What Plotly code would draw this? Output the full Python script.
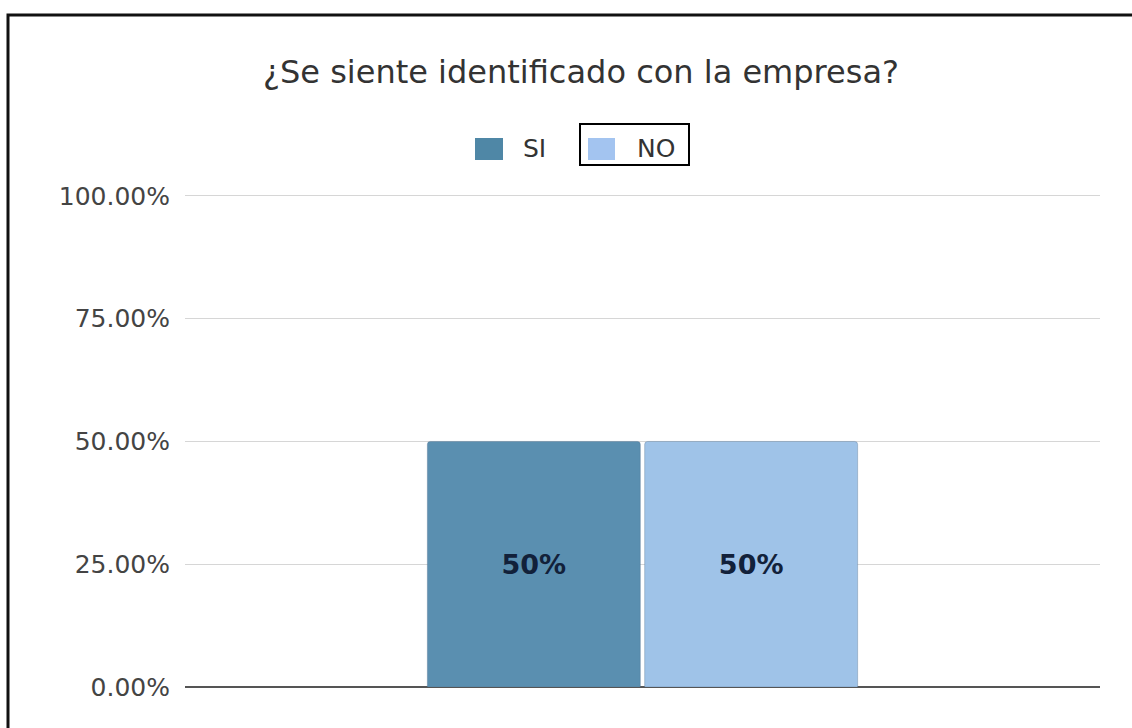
import plotly.graph_objects as go

# Survey result: share of answers per option
title_text = "¿Se siente identificado con la empresa?"
category = ["Respuesta"]
series_names = ["SI", "NO"]
series_values = [0.50, 0.50]
series_colors = ["#5a8fb0", "#9fc3e8"]
legend_colors = ["#4f87a6", "#a3c4f0"]
y_ticks = [0, 0.25, 0.50, 0.75, 1.0]

W, H = 1132, 728
Y_TOP = 1.01
ML, MR, MT, MB = 185, 32, 191, 41
PW, PH = W - ML - MR, H - MT - MB

FONT = "DejaVu Sans"


def px_to_paper_x(px):
    return (px - ML) / PW


def px_to_paper_y(py):
    return 1 + (MT - py) / PH


fig = go.Figure()
for name, val, col in zip(series_names, series_values, series_colors):
    fig.add_trace(go.Bar(
        x=category,
        y=[val],
        name=name,
        marker=dict(color=col, line=dict(color="rgba(80,110,140,0.35)", width=1)),
        texttemplate="%{y:.0%}",
        textposition="inside",
        insidetextanchor="middle",
        textfont=dict(family=FONT, size=27, color="#12213a", weight="bold"),
        showlegend=False,
    ))

shapes = []
annotations = []

# Outer frame around the whole chart
shapes.append(dict(
    type="rect", xref="paper", yref="paper",
    x0=px_to_paper_x(8), x1=px_to_paper_x(1140),
    y0=px_to_paper_y(740), y1=px_to_paper_y(15),
    line=dict(color="#111111", width=3), fillcolor="rgba(0,0,0,0)", layer="above",
))

# Hand-drawn legend: swatch + label per series
legend_items = [
    dict(sw_x0=475, sw_x1=503, txt_x=521),
    dict(sw_x0=588, sw_x1=615, txt_x=635),
]
for name, col, pos in zip(series_names, legend_colors, legend_items):
    shapes.append(dict(
        type="rect", xref="paper", yref="paper",
        x0=px_to_paper_x(pos["sw_x0"]), x1=px_to_paper_x(pos["sw_x1"]),
        y0=px_to_paper_y(160), y1=px_to_paper_y(138),
        line=dict(width=0), fillcolor=col,
    ))
    annotations.append(dict(
        text=name, xref="paper", yref="paper",
        x=px_to_paper_x(pos["txt_x"]), y=px_to_paper_y(148),
        xanchor="left", yanchor="middle", showarrow=False,
        font=dict(family=FONT, size=25, color="#333333"),
    ))

# Highlight box around the "NO" legend entry
shapes.append(dict(
    type="rect", xref="paper", yref="paper",
    x0=px_to_paper_x(580), x1=px_to_paper_x(689),
    y0=px_to_paper_y(165), y1=px_to_paper_y(124),
    line=dict(color="#000000", width=2), fillcolor="rgba(0,0,0,0)",
))

fig.update_layout(
    width=W, height=H, autosize=False,
    margin=dict(l=ML, r=MR, t=MT, b=MB),
    paper_bgcolor="white", plot_bgcolor="white",
    barmode="group", bargap=0.525, bargroupgap=0.02,
    barcornerradius=3,
    title=dict(
        text=title_text, x=px_to_paper_x(581), xref="paper", xanchor="center",
        y=1 - 72 / H, yref="container", yanchor="middle",
        font=dict(family=FONT, size=32, color="#333333"),
    ),
    xaxis=dict(showticklabels=False, showgrid=False, showline=False, zeroline=False),
    yaxis=dict(
        range=[0, Y_TOP], tickvals=y_ticks, tickformat=".2%",
        showgrid=True, gridcolor="#d6d6d6", gridwidth=1.2,
        zeroline=True, zerolinecolor="#555555", zerolinewidth=1.5,
        showline=False, ticks="", ticklabelstandoff=14,
        tickfont=dict(family=FONT, size=25, color="#444444"),
    ),
    shapes=shapes,
    annotations=annotations,
    showlegend=False,
)

fig.write_html("out.html")
